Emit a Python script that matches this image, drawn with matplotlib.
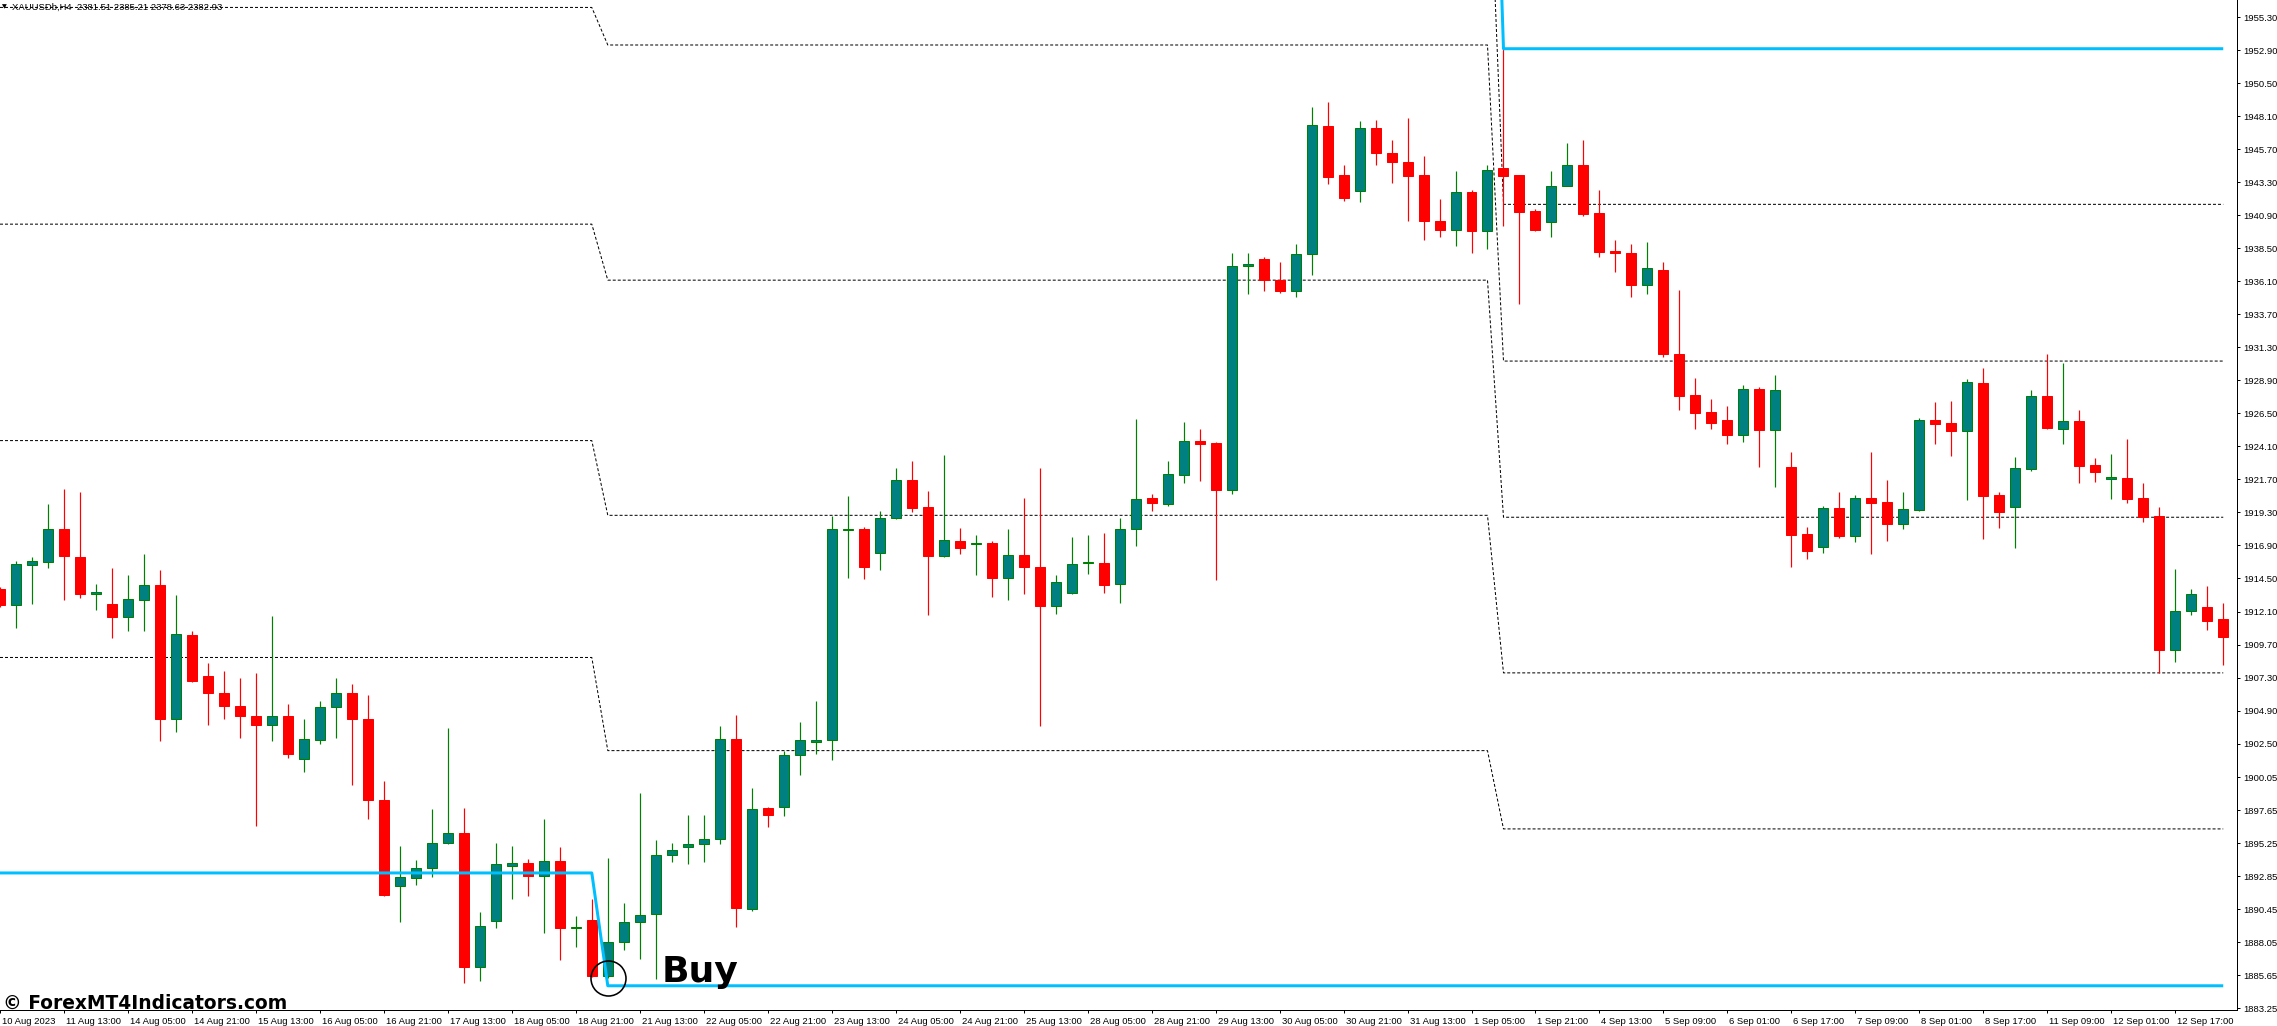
import numpy as np
import matplotlib.pyplot as plt
from matplotlib.transforms import ScaledTranslation

# --- Candle data: XAUUSD H4, one candle per bar ---
opens = [1913.75, 1912.55, 1915.51, 1915.73, 1918.06, 1916.08, 1913.34, 1912.64, 1911.67, 1912.96,
         1914.06, 1904.29, 1910.41, 1907.41, 1906.15, 1905.20, 1904.54, 1903.85, 1904.54, 1901.36,
         1902.75, 1905.14, 1906.15, 1904.26, 1898.37, 1892.16, 1892.73, 1893.48, 1895.31, 1896.00,
         1886.30, 1889.60, 1893.64, 1893.83, 1892.85, 1893.96, 1889.09, 1889.68, 1885.58, 1888.09,
         1889.55, 1890.13, 1894.43, 1895.02, 1895.23, 1895.54, 1902.86, 1890.47, 1897.79, 1897.92,
         1901.67, 1902.65, 1902.73, 1918.01, 1918.09, 1916.37, 1918.88, 1921.63, 1919.70, 1916.16,
         1917.21, 1917.03, 1917.05, 1914.57, 1916.18, 1915.36, 1912.48, 1913.41, 1915.60, 1915.62,
         1914.09, 1918.11, 1920.37, 1919.89, 1922.03, 1924.50, 1924.35, 1920.93, 1937.20, 1937.74,
         1936.22, 1935.39, 1938.06, 1947.40, 1943.80, 1942.67, 1947.25, 1945.44, 1944.78, 1943.80,
         1940.50, 1939.82, 1942.61, 1939.76, 1944.31, 1943.80, 1941.19, 1940.41, 1943.03, 1944.58,
         1941.04, 1938.27, 1938.12, 1935.80, 1936.90, 1930.79, 1927.84, 1926.60, 1926.02, 1924.96,
         1928.25, 1925.32, 1922.61, 1917.71, 1916.82, 1919.63, 1917.62, 1920.35, 1920.06, 1918.49,
         1919.51, 1926.02, 1925.80, 1925.25, 1928.71, 1920.57, 1919.72, 1922.48, 1927.74, 1925.39,
         1925.95, 1922.75, 1921.76, 1921.78, 1920.35, 1919.05, 1909.28, 1912.12, 1912.43, 1911.56]
highs = [1913.90, 1915.76, 1916.08, 1919.92, 1920.99, 1920.77, 1914.09, 1915.29, 1914.75, 1916.27,
         1915.13, 1913.30, 1910.69, 1908.36, 1907.79, 1907.29, 1907.63, 1911.76, 1905.39, 1904.29,
         1905.61, 1907.29, 1906.84, 1906.03, 1899.79, 1895.06, 1894.05, 1897.74, 1903.63, 1897.83,
         1890.24, 1895.31, 1895.06, 1894.08, 1897.00, 1894.96, 1889.94, 1891.21, 1894.22, 1890.94,
         1898.90, 1895.49, 1895.31, 1897.34, 1897.34, 1903.81, 1904.55, 1899.24, 1897.92, 1901.96,
         1904.05, 1905.59, 1919.06, 1920.46, 1918.22, 1919.41, 1922.55, 1923.05, 1920.86, 1923.48,
         1918.16, 1917.64, 1917.21, 1918.09, 1920.33, 1922.52, 1914.78, 1917.48, 1917.69, 1917.78,
         1918.88, 1926.08, 1920.61, 1923.04, 1925.87, 1925.37, 1924.41, 1938.15, 1938.15, 1937.88,
         1937.53, 1938.78, 1948.74, 1949.13, 1944.52, 1947.73, 1947.82, 1946.36, 1947.94, 1945.17,
         1942.11, 1944.10, 1942.70, 1944.52, 1953.00, 1943.80, 1941.36, 1944.10, 1946.12, 1946.36,
         1942.76, 1939.07, 1938.78, 1938.98, 1937.50, 1935.50, 1929.07, 1927.55, 1927.04, 1928.56,
         1928.40, 1929.29, 1923.70, 1918.22, 1919.77, 1920.79, 1920.57, 1923.70, 1921.66, 1920.79,
         1926.17, 1927.33, 1927.40, 1928.98, 1929.80, 1920.77, 1923.33, 1928.20, 1930.82, 1930.16,
         1926.75, 1923.26, 1923.55, 1924.64, 1921.44, 1919.70, 1915.22, 1913.74, 1913.98, 1912.72]
lows = [1912.40, 1910.91, 1912.64, 1915.29, 1912.93, 1913.05, 1912.20, 1910.18, 1910.66, 1910.66,
        1902.71, 1903.31, 1907.00, 1903.82, 1904.26, 1902.93, 1896.48, 1902.71, 1901.42, 1900.41,
        1902.46, 1902.93, 1899.47, 1897.04, 1891.43, 1889.57, 1892.22, 1892.79, 1895.21, 1885.13,
        1885.23, 1889.07, 1891.24, 1891.43, 1888.75, 1886.77, 1887.69, 1885.55, 1885.50, 1887.51,
        1886.85, 1885.37, 1893.90, 1893.77, 1893.90, 1895.17, 1889.15, 1890.31, 1896.47, 1897.26,
        1900.25, 1901.78, 1901.30, 1914.52, 1914.47, 1915.13, 1918.80, 1919.35, 1911.84, 1916.08,
        1916.29, 1914.78, 1913.12, 1912.91, 1913.38, 1903.81, 1911.95, 1913.35, 1914.83, 1913.44,
        1912.72, 1916.86, 1919.42, 1919.77, 1921.47, 1921.62, 1914.39, 1920.66, 1935.15, 1935.39,
        1935.24, 1934.94, 1936.58, 1943.15, 1941.93, 1941.87, 1944.52, 1943.21, 1940.47, 1939.07,
        1939.31, 1938.66, 1938.18, 1938.42, 1940.11, 1934.43, 1939.73, 1939.31, 1943.00, 1940.83,
        1937.83, 1936.75, 1934.94, 1935.15, 1930.62, 1926.75, 1925.39, 1925.39, 1924.30, 1924.45,
        1922.63, 1921.18, 1915.36, 1915.95, 1916.38, 1917.47, 1917.18, 1916.28, 1917.25, 1918.13,
        1919.38, 1924.30, 1923.43, 1920.21, 1917.40, 1918.20, 1916.74, 1922.34, 1925.39, 1924.30,
        1921.47, 1921.54, 1920.31, 1919.97, 1918.63, 1907.66, 1908.46, 1911.88, 1910.76, 1908.24]
closes = [1912.55, 1915.54, 1915.76, 1918.06, 1916.11, 1913.34, 1913.53, 1911.67, 1912.99, 1914.06,
          1904.29, 1910.44, 1907.06, 1906.15, 1905.20, 1904.54, 1903.85, 1904.48, 1901.77, 1902.81,
          1905.14, 1906.15, 1904.26, 1898.37, 1891.53, 1892.79, 1893.48, 1895.31, 1896.00, 1886.30,
          1889.23, 1893.73, 1893.83, 1892.85, 1893.95, 1889.07, 1889.20, 1885.58, 1888.09, 1889.55,
          1890.07, 1894.43, 1894.80, 1895.23, 1895.54, 1902.86, 1890.52, 1897.76, 1897.34, 1901.67,
          1902.73, 1902.76, 1918.06, 1918.09, 1915.36, 1918.88, 1921.63, 1919.64, 1916.16, 1917.27,
          1916.68, 1917.11, 1914.52, 1916.18, 1915.36, 1912.48, 1914.28, 1915.57, 1915.68, 1914.05,
          1918.11, 1920.31, 1919.95, 1922.06, 1924.50, 1924.29, 1920.93, 1937.20, 1937.35, 1936.16,
          1935.39, 1938.09, 1947.49, 1943.68, 1942.14, 1947.25, 1945.44, 1944.78, 1943.74, 1940.47,
          1939.82, 1942.61, 1939.76, 1944.19, 1943.74, 1941.13, 1939.82, 1943.03, 1944.58, 1940.98,
          1938.21, 1938.15, 1935.80, 1937.05, 1930.79, 1927.79, 1926.55, 1925.83, 1924.96, 1928.25,
          1925.32, 1928.20, 1917.67, 1916.53, 1919.60, 1917.62, 1920.33, 1920.01, 1918.49, 1919.53,
          1926.02, 1925.76, 1925.25, 1928.76, 1920.52, 1919.36, 1922.51, 1927.74, 1925.46, 1925.95,
          1922.70, 1922.27, 1921.86, 1920.31, 1918.97, 1909.33, 1912.12, 1913.35, 1911.44, 1910.28]

# --- Axis labels ---
time_labels = ["10 Aug 2023", "11 Aug 13:00", "14 Aug 05:00", "14 Aug 21:00", "15 Aug 13:00",
               "16 Aug 05:00", "16 Aug 21:00", "17 Aug 13:00", "18 Aug 05:00", "18 Aug 21:00",
               "21 Aug 13:00", "22 Aug 05:00", "22 Aug 21:00", "23 Aug 13:00", "24 Aug 05:00",
               "24 Aug 21:00", "25 Aug 13:00", "28 Aug 05:00", "28 Aug 21:00", "29 Aug 13:00",
               "30 Aug 05:00", "30 Aug 21:00", "31 Aug 13:00", "1 Sep 05:00", "1 Sep 21:00",
               "4 Sep 13:00", "5 Sep 09:00", "6 Sep 01:00", "6 Sep 17:00", "7 Sep 09:00",
               "8 Sep 01:00", "8 Sep 17:00", "11 Sep 09:00", "12 Sep 01:00", "12 Sep 17:00"]
bars_per_label = 4
price_labels = ["1955.30", "1952.90", "1950.50", "1948.10", "1945.70", "1943.30", "1940.90",
                "1938.50", "1936.10", "1933.70", "1931.30", "1928.90", "1926.50", "1924.10",
                "1921.70", "1919.30", "1916.90", "1914.50", "1912.10", "1909.70", "1907.30",
                "1904.90", "1902.50", "1900.05", "1897.65", "1895.25", "1892.85", "1890.45",
                "1888.05", "1885.65", "1883.25"]

# --- Indicator levels, one entry per segment (last bar of each segment) ---
segment_last_bar = [37, 93, 139]
dotted_levels = [[1971.75, 1956.00, 1940.25, 1924.52, 1908.76],
                 [1970.36, 1953.27, 1936.18, 1919.09, 1901.99],
                 [1941.69, 1930.30, 1918.95, 1907.64, 1896.30]]
upper_band = [2004.00, 1988.00, 1953.00]
lower_band = [1893.10, 1884.90, 1884.90]
buy_bar = 38

header = "XAUUSDb,H4  2381.51 2385.21 2378.63 2382.93"

# --- Figure geometry (pixels) ---
W, H, DPI = 2277, 1026, 100
PX = 72 / DPI   # one pixel in points
ax_right, ax_bottom = 2237, 1010

plt.rcParams['font.family'] = ['Liberation Sans', 'DejaVu Sans']

fig = plt.figure(figsize=(W / DPI, H / DPI), dpi=DPI)
ax = fig.add_axes([0, (H - ax_bottom) / H, ax_right / W, ax_bottom / H])

o = np.array(opens)
h = np.array(highs)
l = np.array(lows)
c = np.array(closes)
x = np.arange(len(o))
up = c >= o


# --- Step lines of the indicator (levels jump between last bar and next bar) ---
def step_line(values):
    xs, ys = [], []
    start = 0
    for last, v in zip(segment_last_bar, values):
        xs += [start, last]
        ys += [v, v]
        start = last + 1
    return xs, ys


for i in range(len(dotted_levels[0])):
    xs, ys = step_line([seg[i] for seg in dotted_levels])
    ax.plot(xs, ys, color='black', lw=PX, linestyle=(0, (3, 2)), zorder=1)

for band in (upper_band, lower_band):
    xs, ys = step_line(band)
    ax.plot(xs, ys, color='#00BFFF', lw=3 * PX, solid_capstyle='butt', zorder=4)

# --- Candles ---
body_lo = np.minimum(o, c)
body_h = np.maximum(np.abs(c - o), 0.04)
ax.vlines(x[up], l[up], h[up], color='#008000', lw=1.2 * PX, zorder=2)
ax.vlines(x[~up], l[~up], h[~up], color='#FF0000', lw=1.2 * PX, zorder=2)
ax.bar(x[up], body_h[up], bottom=body_lo[up], width=0.625, color='#008080',
       edgecolor='#008000', linewidth=PX, zorder=3)
ax.bar(x[~up], body_h[~up], bottom=body_lo[~up], width=0.625, color='#FF0000',
       edgecolor='#FF0000', linewidth=PX, zorder=3)

# --- Buy signal ---
ax.plot(buy_bar, l[buy_bar], marker='o', markersize=35 * PX, mfc='none', mec='black',
        mew=1.6 * PX, zorder=5)
ax.annotate("Buy", xy=(buy_bar, l[buy_bar]), xytext=(54 * PX, -4.5 * PX),
            textcoords='offset points', ha='left', va='baseline', fontsize=26,
            fontweight='bold', family='DejaVu Sans', color='black', zorder=6)

# --- Axes ---
ax.set_xlim(0.044, 139.86)
ax.set_ylim(1883.14, 1956.54)
for side in ('top', 'left'):
    ax.spines[side].set_visible(False)
for side in ('right', 'bottom'):
    ax.spines[side].set_linewidth(PX)
    ax.spines[side].set_color('black')

ax.yaxis.tick_right()
ax.set_yticks([float(v) for v in price_labels])
ax.set_yticklabels(price_labels)
ax.tick_params(axis='y', direction='out', length=3 * PX, width=PX, pad=3 * PX,
               labelsize=6.8, colors='black')

ax.set_xticks(np.arange(len(time_labels)) * bars_per_label)
ax.set_xticklabels(time_labels)
ax.tick_params(axis='x', direction='out', length=3 * PX, width=PX, pad=3.5 * PX,
               labelsize=6.8, colors='black')
shift = ScaledTranslation(2 / DPI, 0, fig.dpi_scale_trans)
for lbl in ax.get_xticklabels():
    lbl.set_horizontalalignment('left')
    lbl.set_transform(lbl.get_transform() + shift)

# --- Header and watermark ---
ax.text(2 / ax_right, 1 - 7 / ax_bottom, "\u25BC", transform=ax.transAxes, fontsize=4.5,
        va='center', ha='left', family='DejaVu Sans')
ax.text(12 / ax_right, 1 - 7.5 / ax_bottom, header, transform=ax.transAxes, fontsize=6.8,
        va='center', ha='left', color='black')
fig.text(3 / W, (H - 1008.5) / H, "\u00A9 ForexMT4Indicators.com", fontsize=13.4,
         fontweight='bold', family='DejaVu Sans', va='baseline', ha='left', color='black')

fig.savefig("out.png", dpi=DPI, facecolor='white')
